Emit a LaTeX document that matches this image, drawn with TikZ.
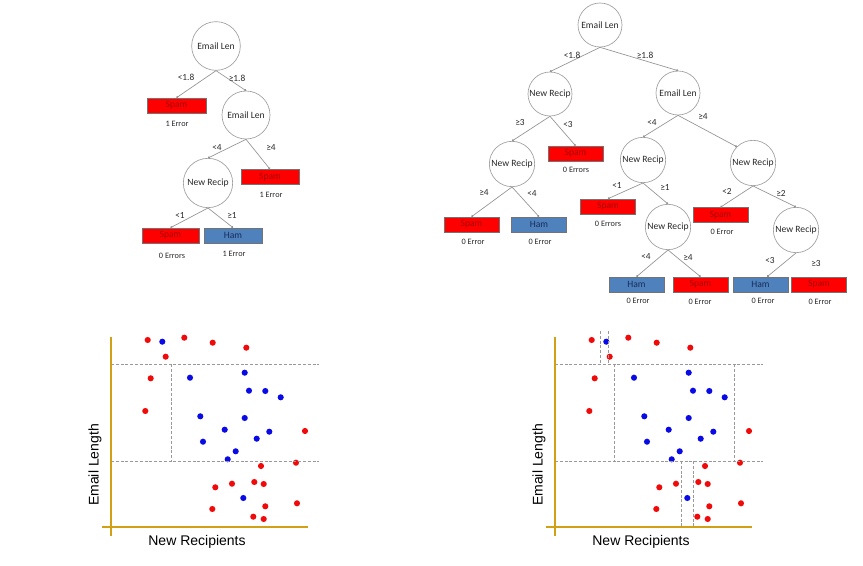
\documentclass[tikz,border=0pt]{standalone}
\usepackage{fontspec}
\setmainfont{Carlito}
\newfontfamily\arialf{Liberation Sans}
\usetikzlibrary{arrows.meta}
\definecolor{spamred}{RGB}{255,0,0}
\definecolor{spamtxt}{RGB}{165,0,0}
\definecolor{hamblue}{RGB}{79,129,189}
\definecolor{hamtxt}{RGB}{25,45,90}
\definecolor{axisgold}{RGB}{210,160,20}
\definecolor{dotred}{RGB}{240,10,10}
\definecolor{dotblue}{RGB}{10,10,230}
\definecolor{txtgray}{RGB}{40,40,40}
\tikzset{
  dec/.style={circle, draw=gray!75, line width=0.5pt, inner sep=0pt, minimum size=#1, font=\fontsize{7.2}{8}\selectfont, text=txtgray},
  leafbox/.style={rectangle, draw=black!55, line width=0.4pt, inner sep=0pt, minimum width=#1, minimum height=11.3pt, font=\fontsize{7.2}{8}\selectfont},
  spam/.style={leafbox=#1, fill=spamred, text=spamtxt},
  ham/.style={leafbox=#1, fill=hamblue, text=hamtxt},
  conn/.style={draw=gray!85, line width=0.5pt, -{Circle[length=1.6pt]}},
  lbl/.style={font=\fontsize{7}{8}\selectfont, text=txtgray, inner sep=0pt},
  err/.style={font=\fontsize{6.2}{7}\selectfont, text=txtgray, inner sep=0pt},
  axisline/.style={draw=axisgold, line width=1.6pt},
  split/.style={draw=gray!80, line width=0.75pt, dash pattern=on 2.2pt off 1.4pt},
  axlbl/.style={font=\arialf\fontsize{10.5}{12}\selectfont, text=black, inner sep=0pt}
}
\begin{document}
\begin{tikzpicture}[x=0.75pt,y=-0.75pt]
\useasboundingbox (0,0) rectangle (863,566);

% ---------------- Left tree ----------------
\node[dec=36.5pt] (rL) at (216,46) {Email Len};
\node[spam=44pt] (sL1) at (176.5,105.5) {Spam};
\node[dec=36pt] (eL2) at (246,115) {Email Len};
\node[spam=43.5pt] (sL2) at (270,177) {Spam};
\node[dec=37pt] (nL) at (208,183) {New Recip};
\node[spam=43pt] (sL3) at (170.5,235.5) {Spam};
\node[ham=43.5pt] (hL) at (233,235.5) {Ham};

\draw[conn] (rL.south) -- (sL1.north);
\draw[conn] (rL.south) -- (eL2.north);
\draw[conn] (eL2.south) -- (nL.north);
\draw[conn] (eL2.south) -- (sL2.north);
\draw[conn] (nL.south) -- (sL3.north);
\draw[conn] (nL.south) -- (hL.north);

\node[lbl] (lL1) at (186,77) {<1.8};
\node[lbl] (lL2) at (237,78) {≥1.8};
\node[err] (eLa) at (177,124) {1 Error};
\node[lbl] (lL3) at (217,148) {<4};
\node[lbl] (lL4) at (271,148) {≥4};
\node[err] (eLb) at (271,195) {1 Error};
\node[lbl] (lL5) at (180,215) {<1};
\node[lbl] (lL6) at (232,215) {≥1};
\node[err] (eLc) at (172,256) {0 Errors};
\node[err] (eLd) at (234,254) {1 Error};

% ---------------- Right tree ----------------
\node[dec=33pt] (rR) at (600,25) {Email Len};
\node[dec=33pt] (n1) at (550,94) {New Recip};
\node[dec=33pt] (e2) at (678,93) {Email Len};
\node[dec=34pt] (n2) at (512,164) {New Recip};
\node[dec=34pt] (n3) at (643,160) {New Recip};
\node[dec=34pt] (n4) at (753,163) {New Recip};
\node[dec=34pt] (n5) at (668,227) {New Recip};
\node[dec=34pt] (n6) at (796,230) {New Recip};

\node[spam=41pt] (s1) at (575.5,153.5) {Spam};
\node[spam=41pt] (s2) at (471.5,224.5) {Spam};
\node[ham=41pt] (h1) at (539,224.5) {Ham};
\node[spam=41pt] (s3) at (608,206.5) {Spam};
\node[spam=41pt] (s4) at (720.5,215) {Spam};
\node[ham=41pt] (h2) at (636.5,284.5) {Ham};
\node[spam=41pt] (s5) at (700.5,284.5) {Spam};
\node[ham=41pt] (h3) at (760.5,284.5) {Ham};
\node[spam=41pt] (s6) at (819,284.5) {Spam};

\draw[conn] (rR.south) -- (n1.north);
\draw[conn] (rR.south) -- (e2.north);
\draw[conn] (n1.south) -- (n2.north);
\draw[conn] (n1.south) -- (s1.north);
\draw[conn] (n2.south) -- (s2.north);
\draw[conn] (n2.south) -- (h1.north);
\draw[conn] (e2.south) -- (n3.north);
\draw[conn] (e2.south) -- (n4.north west);
\draw[conn] (n3.south) -- (s3.north);
\draw[conn] (n3.south) -- (n5.north);
\draw[conn] (n5.south) -- (h2.north);
\draw[conn] (n5.south) -- (s5.north);
\draw[conn] (n4.south) -- (s4.north);
\draw[conn] (n4.south) -- (n6.north);
\draw[conn] (n6.south) -- ([xshift=5pt]h3.north);

\node[lbl] (a1) at (572,55) {<1.8};
\node[lbl] (a2) at (645,55) {≥1.8};
\node[lbl] (a3) at (520,123) {≥3};
\node[lbl] (a4) at (568,125) {<3};
\node[err] (b1) at (576,170) {0 Errors};
\node[lbl] (a5) at (484,193) {≥4};
\node[lbl] (a6) at (532,194) {<4};
\node[err] (b2) at (473,242) {0 Error};
\node[err] (b3) at (540,242) {0 Error};
\node[lbl] (a7) at (617,185) {<1};
\node[lbl] (a8) at (665,187) {≥1};
\node[err] (b4) at (608,224) {0 Errors};
\node[lbl] (a9) at (652,123) {<4};
\node[lbl] (a10) at (703,117) {≥4};
\node[lbl] (a11) at (727,191) {<2};
\node[lbl] (a12) at (781,193) {≥2};
\node[err] (b5) at (722,232) {0 Error};
\node[lbl] (a13) at (646,257) {<4};
\node[lbl] (a14) at (688,258) {≥4};
\node[lbl] (a15) at (770,261) {<3};
\node[lbl] (a16) at (816,264) {≥3};
\node[err] (b6) at (638,301) {0 Error};
\node[err] (b7) at (700,302) {0 Error};
\node[err] (b8) at (763,301) {0 Error};
\node[err] (b9) at (820,302) {0 Error};

% ---------------- Scatter plots ----------------
\foreach \dx in {0,444} {
  \begin{scope}[xshift=\dx*0.75pt]
  \foreach \px/\py in {147.7/340, 184.3/337.7, 212.7/342.7, 246.3/347.7, 165.7/356.7, 150.7/378.3, 145.3/411, 305/431, 296/462.7, 261/466, 215.3/487.3, 232/483.7, 254.3/482, 263.7/484, 212.3/509, 265.3/506.3, 297/503.3, 253.3/516.7, 263.7/519}
    \fill[dotred] (\px,\py) circle[radius=2.3pt];
  \foreach \px/\py in {162.3/341.7, 190/377.7, 244.7/372.7, 249/390.7, 265.3/391, 280.7/397.3, 200.3/416.3, 244.7/418, 224.7/429.7, 269.3/431.7, 256.7/438.7, 203/441.7, 235.7/451.3, 227.7/459.3, 243.3/498}
    \fill[dotblue] (\px,\py) circle[radius=2.3pt];
  \end{scope}
}

% left plot
\coordinate (Ly0) at (111,337); \coordinate (Ly1) at (111,536);
\coordinate (Lx0) at (102,527); \coordinate (Lx1) at (308,527);
\draw[split] (111,364) -- (319,364);
\draw[split] (111,461) -- (319,461);
\draw[split] (171,364) -- (171,461);
\draw[axisline] (Ly0) -- (Ly1);
\draw[axisline] (Lx0) -- (Lx1);
\node[axlbl, rotate=90] (Lyl) at (95,465) {Email Length};
\node[axlbl] (Lxl) at (197,542) {New Recipients};

% right plot
\coordinate (Ry0) at (555,337); \coordinate (Ry1) at (555,536);
\coordinate (Rx0) at (546,527); \coordinate (Rx1) at (752,527);
\draw[split] (555,364) -- (763,364);
\draw[split] (555,461) -- (763,461);
\draw[split] (614,364) -- (614,461);
\draw[split] (734.5,364) -- (734.5,461);
\draw[split] (600.7,331) -- (600.7,364);
\draw[split] (608,331) -- (608,364);
\draw[split] (681.7,461) -- (681.7,526);
\draw[split] (693,461) -- (693,526);
\draw[axisline] (Ry0) -- (Ry1);
\draw[axisline] (Rx0) -- (Rx1);
\node[axlbl, rotate=90] (Ryl) at (539,465) {Email Length};
\node[axlbl] (Rxl) at (641,542) {New Recipients};
\end{tikzpicture}
\end{document}
